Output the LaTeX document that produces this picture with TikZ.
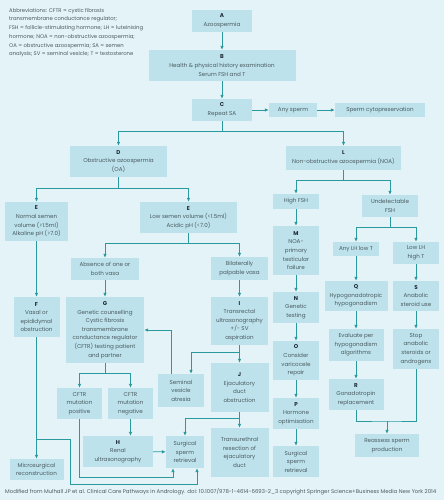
\documentclass[tikz,border=0pt]{standalone}
\usepackage{fontspec}
\setmainfont{Poppins}
\usetikzlibrary{arrows.meta, positioning}
\definecolor{bgblue}{HTML}{E4F3F8}
\definecolor{boxblue}{HTML}{BDE2EB}
\definecolor{arrowteal}{HTML}{2A9A9E}
\definecolor{txtgray}{HTML}{4A5A60}
\definecolor{lettercol}{HTML}{1E2A36}
\newcommand{\stepletter}[1]{{\color{lettercol}\bfseries #1}}

\begin{document}
\begin{tikzpicture}[
    x=1pt, y=-1pt,
    box/.style 2 args={fill=boxblue, minimum width=#1pt, minimum height=#2pt, inner sep=0pt,
        align=center, text=txtgray, font=\fontsize{5.6}{8.6}\selectfont},
    link/.style={arrowteal, line width=0.8pt, -{Latex[length=4pt, width=3.6pt]}},
    joint/.style={arrowteal, line width=0.8pt},
    note/.style={text=txtgray, inner sep=0pt, font=\fontsize{5.3}{8.7}\selectfont}
]
    \fill[bgblue] (0,0) rectangle (444,500);
    \useasboundingbox (0,0) rectangle (444,500);

    \node[note, anchor=north west, align=left] (abbr) at (9,8)
        {Abbreviations: CFTR = cystic fibrosis\\
         transmembrane conductance regulator;\\
         FSH = follicle-stimulating hormone; LH = luteinising\\
         hormone; NOA = non-obstructive azoospermia;\\
         OA = obstructive azoospermia; SA = semen\\
         analysis; SV = seminal vesicle; T = testosterone};
    \node[note, anchor=west, font=\fontsize{5.4}{8.7}\selectfont] (source) at (5,492)
        {Modified from Mulhall JP et al. Clinical Care Pathways in Andrology. doi: 10.1007/978-1-4614-6693-2\_3 copyright Springer Science+Business Media New York 2014};

    \node[box={60}{22}] (A) at (222,21) {\stepletter{A}\\Azoospermia};
    \node[box={147}{31}] (B) at (222,65.5) {\stepletter{B}\\Health \& physical history examination\\Serum FSH and T};
    \node[box={60}{22}] (C) at (222,110) {\stepletter{C}\\Repeat SA};
    \node[box={48}{14}] (anysperm) at (293,110) {Any sperm};
    \node[box={90}{14}] (cryo) at (380,110) {Sperm cytopreservation};

    \node[box={97}{31}] (D) at (118.5,161.5) {\stepletter{D}\\Obstructive azoospermia\\(OA)};
    \node[box={115}{24}] (L) at (343.5,158) {\stepletter{L}\\Non-obstructive azoospermia (NOA)};

    \node[box={63}{39}] (E1) at (36.5,221.5) {\stepletter{E}\\Normal semen\\volume (>1.5ml)\\Alkaline pH (>7.0)};
    \node[box={97}{31}] (E2) at (188.5,217.5) {\stepletter{E}\\Low semen volume (<1.5ml)\\Acidic pH (<7.0)};
    \node[box={68}{22}] (absent) at (105,269) {Absence of one or\\both vasa};
    \node[box={57}{23}] (palpable) at (239.5,268.5) {Bilaterally\\palpable vasa};

    \node[box={46}{40}] (F) at (36.5,317) {\stepletter{F}\\Vasal or\\epididymal\\obstruction};
    \node[box={78}{66}] (G) at (105,330) {\stepletter{G}\\Genetic counselling\\Cystic fibrosis\\transmembrane\\conductance regulator\\(CFTR) testing patient\\and partner};
    \node[box={57}{48}] (I) at (239.5,321) {\stepletter{I}\\Transrectal\\ultrasonography\\+/- SV\\aspiration};
    \node[box={46}{33}] (atresia) at (181,390.5) {Seminal\\vesicle\\atresia};
    \node[box={58}{49}] (J) at (239.5,387.5) {\stepletter{J}\\Ejaculatory\\duct\\obstruction};
    \node[box={45}{31}] (cfpos) at (79.5,403.5) {CFTR\\mutation\\positive};
    \node[box={45}{31}] (cfneg) at (130.5,403.5) {CFTR\\mutation\\negative};
    \node[box={70}{31}] (H) at (118,451.5) {\stepletter{H}\\Renal\\ultrasonography};
    \node[box={38}{32}] (ssrA) at (185,452) {Surgical\\sperm\\retrieval};
    \node[box={58}{49}] (tured) at (239.5,452.5) {Transurethral\\resection of\\ejaculatory\\duct};
    \node[box={54}{21}] (micro) at (36.5,469.5) {Microsurgical\\reconstruction};

    \node[box={46}{15}] (highfsh) at (296,201.5) {High FSH};
    \node[box={56}{22}] (undfsh) at (390,206) {Undetectable\\FSH};
    \node[box={46}{49}] (M) at (296,250.5) {\stepletter{M}\\NOA-\\primary\\testicular\\failure};
    \node[box={46}{14}] (anylh) at (356,249) {Any LH low T};
    \node[box={46}{22}] (lowlh) at (416,253) {Low LH\\high T};
    \node[box={46}{31}] (N) at (296,307.5) {\stepletter{N}\\Genetic\\testing};
    \node[box={46}{39}] (O) at (296,360.5) {\stepletter{O}\\Consider\\varicocele\\repair};
    \node[box={46}{31}] (P) at (296,413.5) {\stepletter{P}\\Hormone\\optimisation};
    \node[box={46}{31}] (ssrB) at (296,461.5) {Surgical\\sperm\\retrieval};
    \node[box={63}{30}] (Q) at (356,296) {\stepletter{Q}\\Hypogonadotropic\\hypogonadism};
    \node[box={55}{32}] (evaluate) at (356,345) {Evaluate per\\hypogonadism\\algorithms};
    \node[box={55}{31}] (R) at (356,394.5) {\stepletter{R}\\Gonadotropin\\replacement};
    \node[box={46}{30}] (S) at (416,296) {\stepletter{S}\\Anabolic\\steroid use};
    \node[box={46}{40}] (stop) at (416,349) {Stop\\anabolic\\steroids or\\androgens};
    \node[box={64}{23}] (reassess) at (387,445.5) {Reassess sperm\\production};

    \coordinate (c1) at (222,131);
    \coordinate (d1) at (118.5,188);
    \coordinate (l1) at (343.5,180);
    \coordinate (e1) at (188.5,243);
    \coordinate (i1) at (239.5,352);
    \coordinate (j1) at (239.5,418);
    \coordinate (g1) at (105,373);
    \coordinate (u1) at (390,227);
    \coordinate (f1) at (36.5,439);
    \coordinate (r1) at (387,421);

    \draw[link] (A) -- (B);
    \draw[link] (B) -- (C);
    \draw[link] (C) -- (anysperm);
    \draw[link] (anysperm) -- (cryo);
    \draw[joint] (C) -- (c1);
    \draw[link] (c1) -| (D);
    \draw[link] (c1) -| (L);

    \draw[joint] (D) -- (d1);
    \draw[link] (d1) -| (E1);
    \draw[link] (d1) -| (E2);
    \draw[joint] (E2) -- (e1);
    \draw[link] (e1) -| (absent);
    \draw[link] (e1) -| (palpable);
    \draw[link] (E1) -- (F);
    \draw[link] (F) -- (micro);
    \draw[link] (f1) -| (70,484) -| ([xshift=12pt]ssrA.south);
    \draw[link] (absent) -- (G);
    \draw[link] (palpable) -- (I);
    \draw[link] (I) -- (J);
    \draw[link] (i1) -| ([xshift=10pt]atresia.north);
    \draw[link] ([xshift=-10pt]atresia.north) |- (G.east);
    \draw[link] (J) -- (tured);
    \draw[link] (j1) -| (ssrA);
    \draw[joint] (G) -- (g1);
    \draw[link] (g1) -| (cfpos);
    \draw[link] (g1) -| (cfneg);
    \draw[link] (cfneg) -- (cfneg |- H.north);
    \draw[link] (H) -- (ssrA);
    \draw[link] (cfpos) |- (173,477) -- ([xshift=-12pt]ssrA.south);

    \draw[joint] (L) -- (l1);
    \draw[link] (l1) -| (highfsh);
    \draw[link] (l1) -| (undfsh);
    \draw[link] (highfsh) -- (M);
    \draw[link] (M) -- (N);
    \draw[link] (N) -- (O);
    \draw[link] (O) -- (P);
    \draw[link] (P) -- (ssrB);
    \draw[joint] (undfsh) -- (u1);
    \draw[link] (u1) -| (anylh);
    \draw[link] (u1) -| (lowlh);
    \draw[link] (anylh) -- (Q);
    \draw[link] (Q) -- (evaluate);
    \draw[link] (evaluate) -- (R);
    \draw[link] (lowlh) -- (S);
    \draw[link] (S) -- (stop);
    \draw[joint] (R) |- (r1) -| (stop);
    \draw[link] (r1) -- (reassess);
\end{tikzpicture}
\end{document}
